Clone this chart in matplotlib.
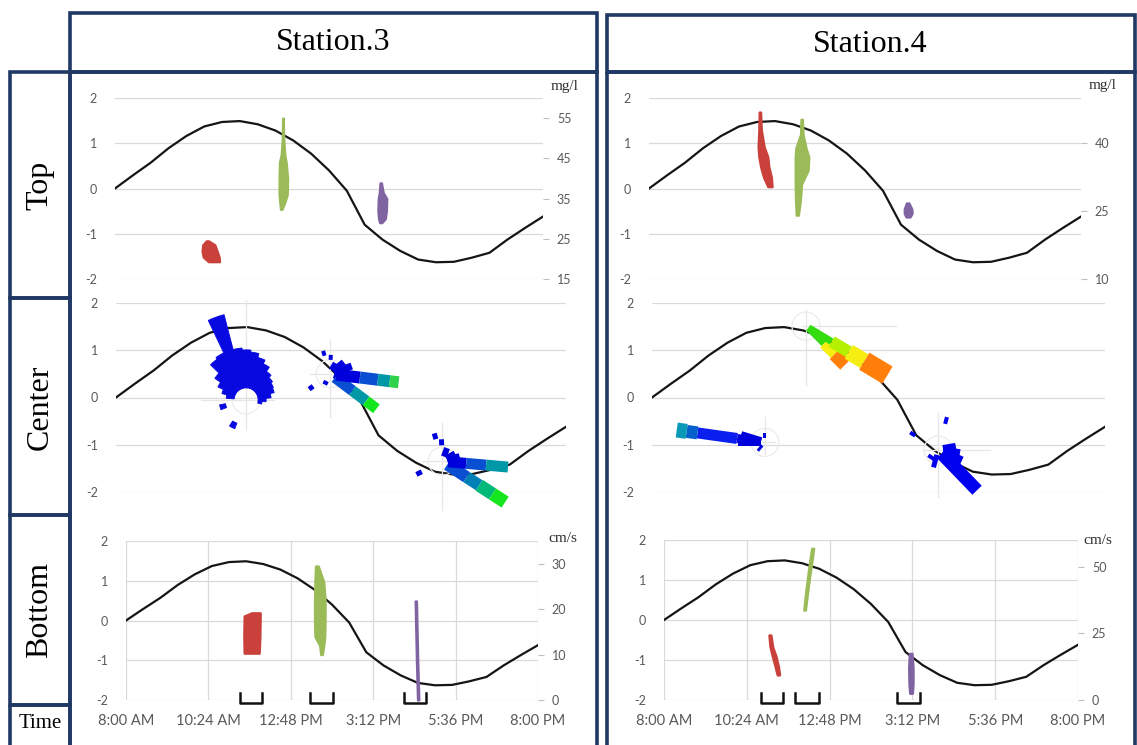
import numpy as np
import matplotlib
matplotlib.use("Agg")
import matplotlib.pyplot as plt
from matplotlib.patches import Rectangle, Wedge, Circle

plt.rcParams['font.family'] = ['Lato', 'DejaVu Sans']

W, H = 1137, 745

# ---------------------------------------------------------
# data
# ---------------------------------------------------------
# tide curve (same in every panel), half-hour steps
hours = [8.0, 8.5, 9.0, 9.5, 10.0, 10.5, 11.0, 11.5, 12.0, 12.5, 13.0, 13.5, 14.0,
         14.5, 15.0, 15.5, 16.0, 16.5, 17.0, 17.5, 18.0, 18.5, 19.0, 19.5, 20.0]
tide = [0.00, 0.29, 0.57, 0.89, 1.16, 1.37, 1.47, 1.49, 1.42, 1.28, 1.06, 0.77, 0.40,
        -0.05, -0.80, -1.13, -1.38, -1.57, -1.63, -1.62, -1.53, -1.42, -1.13, -0.87, -0.62]

time_ticks = [8.0, 10.4, 12.8, 15.2, 17.6, 20.0]
time_labels = ['8:00 AM', '10:24 AM', '12:48 PM', '3:12 PM', '5:36 PM', '8:00 PM']
left_ticks = [-2, -1, 0, 1, 2]
left_labels = ['-2', '-1', '0', '1', '2']

# measured clouds: value levels and the time span covered at each level
# concentration (mg/l), top layer
s3_top_red_v = [24.5, 23.5, 22.0, 20.5, 19.3]
s3_top_red_lo = [10.56, 10.46, 10.44, 10.47, 10.62]
s3_top_red_hi = [10.62, 10.80, 10.86, 10.92, 10.93]
s3_top_grn_v = [55.0, 50.0, 46.0, 44.0, 40.0, 36.0, 34.0, 32.3]
s3_top_grn_lo = [12.70, 12.69, 12.66, 12.61, 12.60, 12.60, 12.62, 12.64]
s3_top_grn_hi = [12.72, 12.73, 12.76, 12.80, 12.84, 12.83, 12.76, 12.68]
s3_top_pur_v = [38.9, 36.5, 35.0, 32.0, 30.0, 29.0]
s3_top_pur_lo = [15.43, 15.41, 15.38, 15.37, 15.39, 15.42]
s3_top_pur_hi = [15.47, 15.52, 15.62, 15.61, 15.58, 15.48]

s4_top_red_v = [46.9, 43.0, 39.2, 37.0, 34.8, 32.5, 30.4]
s4_top_red_lo = [11.06, 11.05, 11.03, 11.05, 11.10, 11.18, 11.30]
s4_top_red_hi = [11.10, 11.12, 11.20, 11.30, 11.33, 11.40, 11.42]
s4_top_grn_v = [45.3, 42.0, 39.0, 37.0, 34.0, 31.0, 27.0, 24.1]
s4_top_grn_lo = [12.22, 12.21, 12.08, 12.06, 12.06, 12.06, 12.07, 12.09]
s4_top_grn_hi = [12.26, 12.28, 12.36, 12.44, 12.42, 12.24, 12.20, 12.15]
s4_top_pur_v = [26.8, 25.5, 24.5, 23.7]
s4_top_pur_lo = [15.15, 15.09, 15.09, 15.14]
s4_top_pur_hi = [15.22, 15.30, 15.31, 15.25]

# current speed (cm/s), bottom layer
s3_bot_red_v = [19.2, 18.5, 14.0, 10.3]
s3_bot_red_lo = [11.66, 11.44, 11.43, 11.44]
s3_bot_red_hi = [11.91, 11.91, 11.90, 11.88]
s3_bot_grn_v = [29.5, 26.0, 22.0, 18.0, 14.0, 12.0, 10.0]
s3_bot_grn_lo = [13.52, 13.50, 13.49, 13.49, 13.50, 13.64, 13.67]
s3_bot_grn_hi = [13.60, 13.76, 13.80, 13.80, 13.79, 13.76, 13.72]
s3_bot_pur_v = [21.8, 15.0, 8.0, 0.0]
s3_bot_pur_lo = [16.42, 16.44, 16.46, 16.49]
s3_bot_pur_hi = [16.46, 16.48, 16.50, 16.53]

s4_bot_red_v = [24.4, 20.0, 16.3, 12.5, 9.4]
s4_bot_red_lo = [11.04, 11.07, 11.14, 11.22, 11.28]
s4_bot_red_hi = [11.10, 11.15, 11.25, 11.32, 11.35]
s4_bot_grn_v = [33.7, 40.0, 46.0, 52.0, 56.9]
s4_bot_grn_lo = [12.05, 12.10, 12.16, 12.22, 12.28]
s4_bot_grn_hi = [12.10, 12.16, 12.22, 12.29, 12.34]
s4_bot_pur_v = [17.5, 12.0, 6.0, 2.5]
s4_bot_pur_lo = [15.11, 15.09, 15.10, 15.12]
s4_bot_pur_hi = [15.19, 15.22, 15.22, 15.20]

# sampling windows (start, end hour)
s3_windows = [(11.32, 11.96), (13.36, 14.03), (16.10, 16.74)]
s4_windows = [(10.80, 11.44), (11.80, 12.49), (14.76, 15.42)]

# current roses, centre layer: centre (hour, level), petal bearing,
# inner / outer radius, petal width, colour of each speed class segment
DB, MB, TL, GR, LG = '#0000dc', '#0a4fd2', '#0098a6', '#2fd14a', '#14e61e'

A_center = (11.47, -0.05)
A_dir = [280, 290, 300, 310, 320, 330, 340, 350, 0, 10, 20, 30, 40, 50, 60, 70, 80, 90, 100, 254, 207]
A_r0 = [12, 12, 12, 12, 12, 12, 12, 12, 12, 12, 12, 12, 12, 12, 12, 12, 12, 12, 12, 21, 25]
A_r1 = [20, 25, 31, 38, 50, 52, 88, 52, 50, 48, 44, 40, 35, 32, 30, 29, 25, 20, 16, 27, 31]
A_col = ['#0808e0'] * 21

B_center = (13.71, 0.50)
B_dir = [30, 50, 70, 110, 343, 2, 234, 207, 127, 127, 127, 97, 97, 97, 97]
B_r0 = [4, 4, 4, 4, 19, 14, 21, 8, 6, 28, 45, 6, 30, 48, 60]
B_r1 = [12, 18, 23, 16, 24, 19, 26, 12, 28, 45, 58, 30, 48, 60, 69]
B_w = [7, 7, 7, 6, 4, 4, 5, 5, 11, 11, 11, 12, 12, 12, 12]
B_col = [DB, DB, DB, DB, DB, DB, DB, DB, MB, TL, LG, DB, MB, TL, GR]

C_center = (16.70, -1.35)
C_dir = [344, 358, 20, 60, 75, 243, 123, 123, 123, 123, 95, 95, 95]
C_r0 = [23, 16, 5, 5, 5, 23, 6, 29, 44, 60, 6, 24, 44]
C_r1 = [29, 22, 14, 15, 18, 29, 29, 44, 60, 75, 24, 44, 66]
C_w = [5, 5, 6, 7, 7, 5, 12, 12, 13, 13, 11, 11, 11]
C_col = [DB, DB, DB, DB, DB, DB, MB, '#0080b4', '#00b878', LG, DB, MB, TL]

D_center = (10.99, -0.95)
D_dir = [270, 287, 0, 220, 278, 278, 278, 278]
D_r0 = [4, 4, 4, 4, 4, 28, 68, 79]
D_r1 = [27, 25, 9, 11, 28, 68, 79, 89]
D_w = [8, 8, 3, 3, 9, 11, 13, 15]
D_col = [DB, DB, DB, DB, DB, '#0a1ef0', '#0660cc', '#0a9ab8']

E_center = (12.08, 1.51)
E_dir = [135, 135, 135, 121, 121, 121, 121]
E_r0 = [3, 25, 40, 3, 30, 50, 68]
E_r1 = [25, 40, 55, 30, 50, 68, 95]
E_w = [6, 10, 13, 7, 12, 16, 20]
E_col = ['#33dd10', '#f6ee10', '#ff7f0a', '#33dd10', '#b4f000', '#f6ee10', '#ff7f0a']

F_center = (15.58, -1.11)
F_dir = [15, 302, 195, 215, 115, 100, 80, 136]
F_r0 = [27, 27, 5, 8, 5, 5, 5, 5]
F_r1 = [34, 33, 18, 12, 26, 22, 18, 56]
F_w = [4, 4, 5, 10, 9, 9, 8, 13]
F_col = ['#0000ee'] * 8

RED, GRN, PUR = '#C9413A', '#9BBB59', '#8064A2'
GRID = '#D9D9D9'
TXT = '#595959'
FRAME = '#1F3864'

fig = plt.figure(figsize=(W / 100, H / 100), dpi=100)

# ---------------------------------------------------------
# frame (table cells)
# ---------------------------------------------------------
bg = fig.add_axes([0, 0, 1, 1])
bg.set_xlim(0, W)
bg.set_ylim(H, 0)
bg.axis('off')

cells = [(70, 13, 527, 59), (607, 15, 528, 57),
         (70, 72, 527, 690), (607, 72, 528, 690),
         (10, 72, 60, 226), (10, 298, 60, 217), (10, 515, 60, 190), (10, 705, 60, 60)]
for x, y, w, h in cells:
    bg.add_patch(Rectangle((x, y), w, h, fill=False, edgecolor=FRAME, linewidth=2.6))

serif = 'Liberation Serif'
bg.text(333, 43, 'Station.3', ha='center', va='center', fontsize=23, family=serif)
bg.text(870, 44, 'Station.4', ha='center', va='center', fontsize=23, family=serif)
bg.text(40, 185, 'Top', rotation=90, ha='center', va='center', fontsize=23, family=serif)
bg.text(40, 407, 'Center', rotation=90, ha='center', va='center', fontsize=23, family=serif)
bg.text(40, 610, 'Bottom', rotation=90, ha='center', va='center', fontsize=23, family=serif)
bg.text(40, 724, 'Time', ha='center', va='center', fontsize=15, family=serif)


def px_axes(x0, x1, y0, y1):
    return fig.add_axes([x0 / W, 1 - y1 / H, (x1 - x0) / W, (y1 - y0) / H])


def base_panel(ax, with_time):
    ax.set_xlim(8, 20)
    ax.set_ylim(-2, 2)
    for s in ax.spines.values():
        s.set_visible(False)
    ax.set_yticks(left_ticks)
    ax.set_yticklabels(left_labels)
    ax.tick_params(axis='y', length=0, pad=13, labelsize=9, labelcolor=TXT)
    ax.set_axisbelow(True)
    if with_time:
        ax.set_xticks(time_ticks)
        ax.set_xticklabels(time_labels)
        ax.tick_params(axis='x', length=0, pad=10, labelsize=10.5, labelcolor=TXT)
        ax.grid(True, color=GRID, linewidth=0.9)
    else:
        ax.set_xticks([])
        ax.grid(True, axis='y', color=GRID, linewidth=0.9)
    ax.plot(hours, tide, color='#151515', linewidth=1.6, zorder=3)


def right_axis(ax, lo, hi, ticks, unit, off):
    ax2 = ax.twinx()
    ax2.set_ylim(lo, hi)
    ax2.set_yticks(ticks)
    for s in ax2.spines.values():
        s.set_visible(False)
    ax2.tick_params(axis='y', length=4, color='#BFBFBF', pad=6, labelsize=9, labelcolor=TXT)
    ax2.annotate(unit, xy=(1, 1), xycoords='axes fraction', xytext=off,
                 textcoords='offset pixels', ha='center', va='center',
                 fontsize=11, family=serif, color='#303030')
    return ax2


def cloud(ax2, v, lo, hi, color):
    ax2.fill_betweenx(v, lo, hi, color=color, edgecolor=color, linewidth=1.6,
                      clip_on=False, zorder=4)


def windows(ax, spans):
    for t0, t1 in spans:
        ax.plot([t0, t0, t1, t1], [-1.82, -2.07, -2.07, -1.82], color='#111111',
                linewidth=1.8, clip_on=False, zorder=5)


def rose(ax, center, dirs, r0, r1, cols, arms, widths=None, R=100):
    bb = ax.get_position()
    pxh = bb.width * W / 12.0
    pxv = bb.height * H / 4.0
    h, v = center
    bw, bh = R / pxh, R / pxv
    rax = ax.inset_axes([h - bw, v - bh, 2 * bw, 2 * bh], transform=ax.transData, zorder=4)
    rax.set_xlim(-R, R)
    rax.set_ylim(-R, R)
    rax.set_aspect('equal')
    rax.axis('off')
    rax.patch.set_alpha(0)
    # faint rose axes, drawn below the petals
    up, right, down, left = arms
    kw = dict(color='#e6e6e6', linewidth=0.9, zorder=0.5)
    rax.plot([0, 0], [0, up], **kw)
    rax.plot([0, 0], [0, -down], **kw)
    rax.plot([0, right], [0, 0], **kw)
    rax.plot([0, -left], [0, 0], **kw)
    rax.add_patch(Circle((0, 0), 14, fill=False, edgecolor='#ececec', linewidth=0.9, zorder=0.5))
    for i in range(len(dirs)):
        ang = 90 - dirs[i]
        if widths is None:
            p = Wedge((0, 0), r1[i], ang - 5.5, ang + 5.5, width=r1[i] - r0[i],
                      facecolor=cols[i], edgecolor=cols[i], linewidth=0.6, zorder=2)
        else:
            p = Rectangle((r0[i], -widths[i] / 2), r1[i] - r0[i], widths[i], angle=ang,
                          rotation_point=(0, 0), facecolor=cols[i], edgecolor='none', zorder=2)
        rax.add_patch(p)


# ---------------------------------------------------------
# Station 3
# ---------------------------------------------------------
ax = px_axes(115, 543, 98, 279)
base_panel(ax, False)
ax2 = right_axis(ax, 15, 60, [15, 25, 35, 45, 55], 'mg/l', (22, 12))
cloud(ax2, s3_top_red_v, s3_top_red_lo, s3_top_red_hi, RED)
cloud(ax2, s3_top_grn_v, s3_top_grn_lo, s3_top_grn_hi, GRN)
cloud(ax2, s3_top_pur_v, s3_top_pur_lo, s3_top_pur_hi, PUR)

ax = px_axes(116, 566, 303, 492)
base_panel(ax, False)
rose(ax, A_center, A_dir, A_r0, A_r1, A_col, [100, 28, 30, 45])
rose(ax, B_center, B_dir, B_r0, B_r1, B_col, [34, 20, 43, 20], B_w)
rose(ax, C_center, C_dir, C_r0, C_r1, C_col, [38, 25, 49, 20], C_w)

ax = px_axes(126, 538, 541, 700)
base_panel(ax, True)
ax2 = right_axis(ax, 0, 35, [0, 10, 20, 30], 'cm/s', (25, 3))
cloud(ax2, s3_bot_red_v, s3_bot_red_lo, s3_bot_red_hi, RED)
cloud(ax2, s3_bot_grn_v, s3_bot_grn_lo, s3_bot_grn_hi, GRN)
cloud(ax2, s3_bot_pur_v, s3_bot_pur_lo, s3_bot_pur_hi, PUR)
windows(ax, s3_windows)

# ---------------------------------------------------------
# Station 4
# ---------------------------------------------------------
ax = px_axes(649, 1081, 98, 279)
base_panel(ax, False)
ax2 = right_axis(ax, 10, 50, [10, 25, 40], 'mg/l', (22, 13))
cloud(ax2, s4_top_red_v, s4_top_red_lo, s4_top_red_hi, RED)
cloud(ax2, s4_top_grn_v, s4_top_grn_lo, s4_top_grn_hi, GRN)
cloud(ax2, s4_top_pur_v, s4_top_pur_lo, s4_top_pur_hi, PUR)

ax = px_axes(652, 1105, 303, 492)
base_panel(ax, False)
rose(ax, D_center, D_dir, D_r0, D_r1, D_col, [25, 10, 12, 8], D_w)
rose(ax, E_center, E_dir, E_r0, E_r1, E_col, [16, 90, 59, 4], E_w)
rose(ax, F_center, F_dir, F_r0, F_r1, F_col, [37, 52, 47, 15], F_w)

ax = px_axes(664, 1078, 540, 700)
base_panel(ax, True)
ax2 = right_axis(ax, 0, 60, [0, 25, 50], 'cm/s', (20, 0))
cloud(ax2, s4_bot_red_v, s4_bot_red_lo, s4_bot_red_hi, RED)
cloud(ax2, s4_bot_grn_v, s4_bot_grn_lo, s4_bot_grn_hi, GRN)
cloud(ax2, s4_bot_pur_v, s4_bot_pur_lo, s4_bot_pur_hi, PUR)
windows(ax, s4_windows)

fig.savefig('out.png', dpi=100)
